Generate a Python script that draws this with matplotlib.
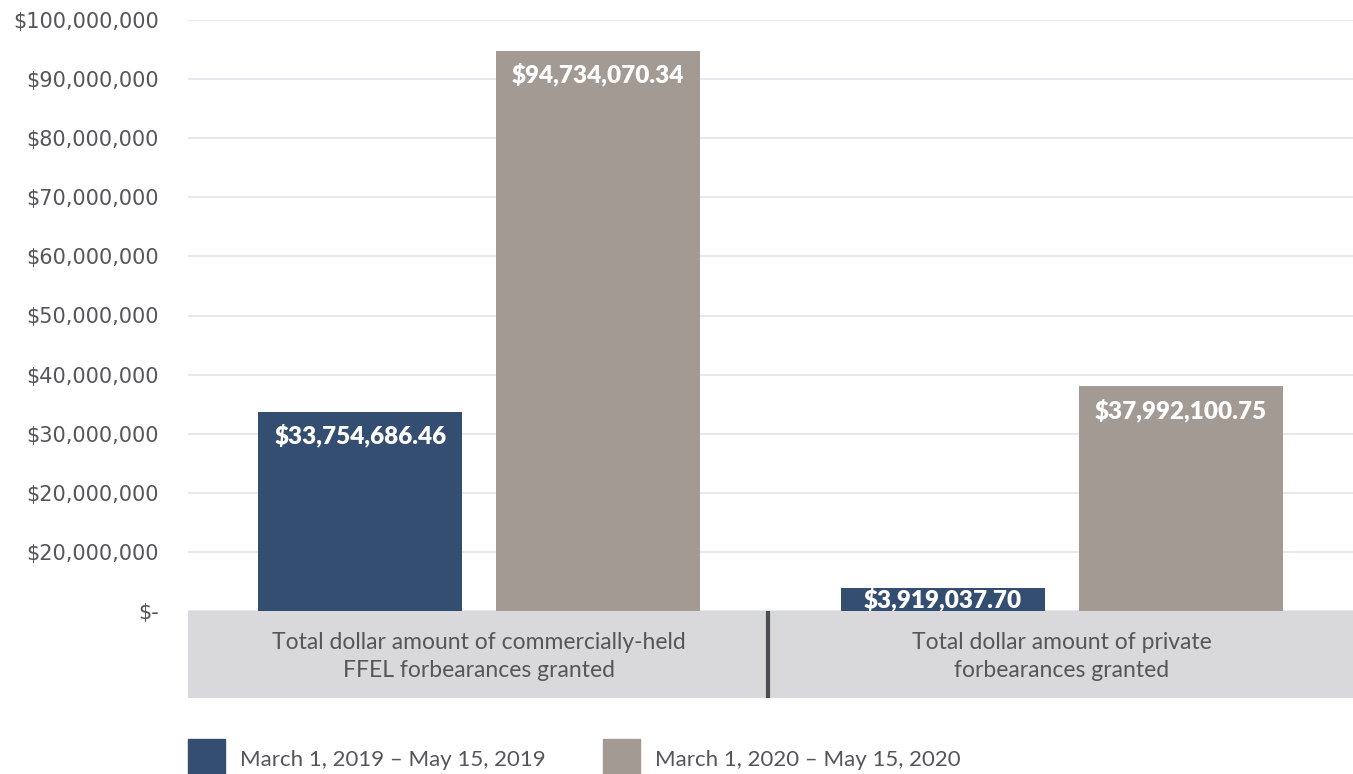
import numpy as np
import matplotlib.pyplot as plt
from matplotlib.patches import Rectangle

plt.rcParams["font.family"] = ["Lato", "DejaVu Sans"]

categories = ["Total dollar amount of commercially-held\nFFEL forbearances granted",
              "Total dollar amount of private\nforbearances granted"]
series_names = ["March 1, 2019 \u2013 May 15, 2019", "March 1, 2020 \u2013 May 15, 2020"]
values_2019 = [33754686.46, 3919037.70]
values_2020 = [94734070.34, 37992100.75]
value_labels_2019 = ["$33,754,686.46", "$3,919,037.70"]
value_labels_2020 = ["$94,734,070.34", "$37,992,100.75"]
ytick_values = [0, 10e6, 20e6, 30e6, 40e6, 50e6, 60e6, 70e6, 80e6, 90e6, 100e6]
# the original axis repeats "$20,000,000" for the 10M line
ytick_labels = ["$-", "$20,000,000", "$20,000,000", "$30,000,000", "$40,000,000",
                "$50,000,000", "$60,000,000", "$70,000,000", "$80,000,000",
                "$90,000,000", "$100,000,000"]

navy = "#334e71"
taupe = "#a29a93"
text_gray = "#55555a"

W, H = 1353, 774
fig = plt.figure(figsize=(W / 100, H / 100), dpi=100)

# main plot area: 100M at y=20px, zero at the top of the grey band (y=611px)
ax = fig.add_axes([188 / W, (H - 611) / H, (W - 188) / W, 591 / H])
x = np.arange(len(categories))
offset = 0.204
width = 0.35
ax.bar(x - offset, values_2019, width, color=navy, zorder=2)
ax.bar(x + offset, values_2020, width, color=taupe, zorder=2)
ax.set_xlim(-0.5, 1.5)
ax.set_ylim(0, 100e6)
ax.set_yticks(ytick_values)
ax.set_yticklabels(ytick_labels, family=["DejaVu Sans"])
ax.tick_params(axis="y", length=0, pad=21, labelsize=15, labelcolor=text_gray)
ax.tick_params(axis="x", length=0, labelbottom=False)
ax.grid(axis="y", color="#e6e8ee", linewidth=1.5, zorder=0)
for s in ax.spines.values():
    s.set_visible(False)

# grey category band under the bars
band = fig.add_axes([188 / W, (H - 698) / H, (W - 188) / W, 87 / H], zorder=5)
band.set_facecolor("#d9d9db")
band.set_xlim(-0.5, 1.5)
band.set_ylim(0, 1)
band.set_xticks([])
band.set_yticks([])
for s in band.spines.values():
    s.set_visible(False)
band.axvline(0.495, color="#4d4d55", linewidth=3)
for i, c in enumerate(categories):
    band.text(x[i], 0.48, c, ha="center", va="center", fontsize=16.5,
              color=text_gray, linespacing=1.4)

# value labels
for i in range(len(categories)):
    for xs, v, lab in [(x[i] - offset, values_2019[i], value_labels_2019[i]),
                       (x[i] + offset, values_2020[i], value_labels_2020[i])]:
        ly = v - 4e6 if v > 10e6 else v / 2
        ax.text(xs, ly, lab, ha="center", va="center", color="white",
                fontsize=17.5, fontweight="heavy", zorder=3)

# legend
legend_items = [(188, navy, series_names[0]), (603, taupe, series_names[1])]
for lx, col, name in legend_items:
    fig.patches.append(Rectangle((lx / W, 0), 37 / W, 35 / H,
                                 transform=fig.transFigure, color=col))
    fig.text((lx + 52) / W, (H - 760) / H, name, ha="left", va="center",
             fontsize=16, color=text_gray)

fig.savefig("out.png", dpi=100)
